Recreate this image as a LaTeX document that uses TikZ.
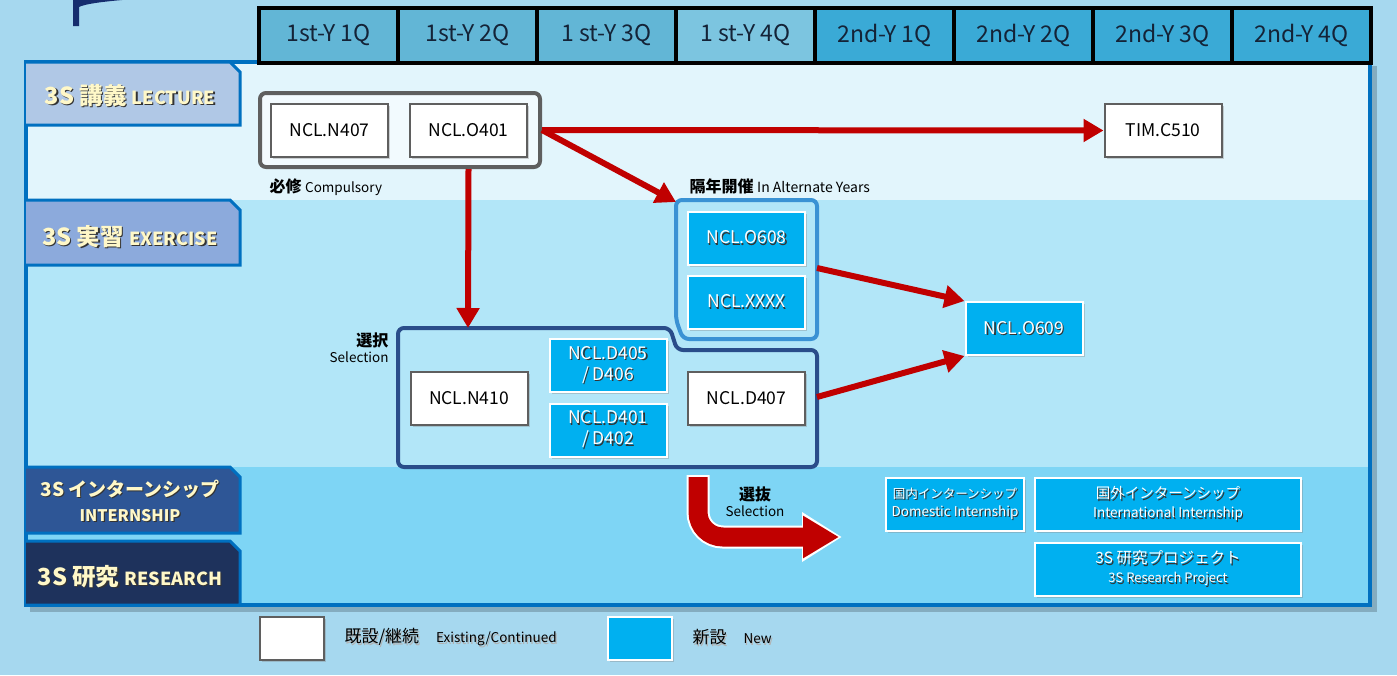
\documentclass[tikz,border=0pt]{standalone}
\usepackage{fontspec}
\setmainfont{Noto Sans CJK JP}
\usepackage{tikz}
\usetikzlibrary{arrows.meta,shadows,positioning}

\definecolor{hgblau}{RGB}{166,216,239}
\definecolor{lecbg}{RGB}{226,245,252}
\definecolor{exbg}{RGB}{178,230,248}
\definecolor{intbg}{RGB}{126,213,245}
\definecolor{rahmen}{RGB}{0,112,192}
\definecolor{neucyan}{RGB}{0,176,240}
\definecolor{pfeilrot}{RGB}{192,0,0}
\definecolor{boxgrau}{RGB}{95,95,95}
\definecolor{kopfa}{RGB}{98,182,214}
\definecolor{kopfc}{RGB}{124,197,224}
\definecolor{kopfb}{RGB}{58,170,214}
\definecolor{tablec}{RGB}{176,200,230}
\definecolor{tabex}{RGB}{140,170,220}
\definecolor{tabint}{RGB}{46,86,150}
\definecolor{tabres}{RGB}{30,50,92}
\definecolor{creme}{RGB}{255,248,200}
\definecolor{altrand}{RGB}{58,146,212}
\definecolor{selrand}{RGB}{42,77,138}
\definecolor{dunkelblau}{RGB}{22,45,110}

% Schatten fuer Text
\newcommand{\schatten}[2][black!80]{\leavevmode\rlap{\kern1.2pt\raisebox{-1.2pt}{\textcolor{#1}{#2}}}#2}

\tikzset{
    alt/.style={draw=boxgrau, line width=2pt, fill=white, minimum width=117pt, minimum height=53pt, inner sep=0pt,
        font=\fontsize{17.5}{21}\selectfont, drop shadow={opacity=0.35, shadow xshift=2pt, shadow yshift=-2pt}},
    neu/.style={draw=white, line width=2pt, fill=neucyan, text=white, minimum width=117pt, minimum height=53pt, inner sep=0pt,
        align=center, font=\fontsize{17.5}{21}\selectfont, drop shadow={opacity=0.35, shadow xshift=2pt, shadow yshift=-2pt}},
    kopf/.style={draw=black, line width=4pt, minimum width=139pt, minimum height=55pt, inner sep=0pt,
        text={rgb,255:red,20;green,35;blue,55}, font=\fontsize{23}{25}\selectfont},
    reiter/.style={draw=rahmen, line width=3pt},
    reitertxt/.style={text=creme, align=center, font=\bfseries\fontsize{23.5}{27}\selectfont},
    pfeil/.style={draw=pfeilrot, line width=6pt, -{Triangle[length=20pt,width=22pt]}},
    notiz/.style={text=black, font=\bfseries\fontsize{16}{19}\selectfont},
    legtxt/.style={text=black, font=\fontsize{17}{20}\selectfont}
}

\begin{document}
\begin{tikzpicture}[x=1pt,y=-1pt]
        \useasboundingbox (0,0) rectangle (1397,675);
        % Hintergrund
        \fill[hgblau] (0,0) rectangle (1397,675);
        \fill[dunkelblau] (73,0) -- (122,0) .. controls (100,2) and (85,4) .. (79,7) -- (79,26) -- (73,26) -- cycle;
        \fill[black, opacity=0.2] (30,66) rectangle (1377,612);
        \fill[lecbg] (26,62) rectangle (1370,200);
        \fill[exbg] (26,200) rectangle (1370,467);
        \fill[intbg] (26,467) rectangle (1370,605);
        \draw[rahmen, line width=4pt] (259,62) -- (26,62) -- (26,605) -- (1370,605) -- (1370,62);

        % Kopfzeile
        \foreach \txt/\fb [count=\i] in {1st-Y 1Q/kopfa,1st-Y 2Q/kopfa,1 st-Y 3Q/kopfa,1 st-Y 4Q/kopfc,
            2nd-Y 1Q/kopfb,2nd-Y 2Q/kopfb,2nd-Y 3Q/kopfb,2nd-Y 4Q/kopfb}
            \node[kopf, fill=\fb] (q\i) at ({259+139*(\i-0.5)},35) {\txt};

        % Reiter links
        \draw[reiter, fill=tablec] (26,62) -- (230,62) -- (240,72) -- (240,125) -- (26,125);
        \draw[reiter, fill=tabex] (26,200) -- (230,200) -- (240,210) -- (240,265) -- (26,265);
        \draw[reiter, fill=tabint] (26,467) -- (230,467) -- (240,477) -- (240,533) -- (26,533);
        \draw[reiter, fill=tabres] (26,541) -- (230,541) -- (240,551) -- (240,605) -- (26,605);
        \node[reitertxt] (rlec) at (130,96) {\schatten{3S 講義 {\fontsize{18}{20}\selectfont LECTURE}}};
        \node[reitertxt] (rex) at (130,237) {\schatten{3S 実習 {\fontsize{18}{20}\selectfont EXERCISE}}};
        \node[reitertxt] (rint) at (130,501) {{\fontsize{19}{22}\selectfont\schatten{3S インターンシップ}}\\[-2pt]{\fontsize{16}{20}\selectfont\schatten{INTERNSHIP}}};
        \node[reitertxt] (rres) at (130,577) {\schatten{3S 研究 {\fontsize{18}{20}\selectfont RESEARCH}}};

        % Gruppen
        \node[draw=boxgrau, line width=4pt, rounded corners=6pt, fill={rgb,255:red,242;green,250;blue,254},
            minimum width=280pt, minimum height=74pt] (komp) at (400,130) {};
        \draw[altrand, line width=4pt, rounded corners=6pt] (676,200) -- (817,200) -- (817,339) -- (683,339) -- (676,320) -- cycle;
        \draw[selrand, line width=4pt, rounded corners=6pt] (398,328) -- (670,328) -- (677,350) -- (817,350) -- (817,467) -- (398,467) -- cycle;
        \coordinate (altnw) at (676,202);
        \coordinate (alte) at (817,268);
        \coordinate (seltop) at (468,328);
        \coordinate (sele) at (817,397);

        % Kurse
        \node[alt] (n407) at (329.5,130.5) {NCL.N407};
        \node[alt] (o401) at (468.5,130.5) {NCL.O401};
        \node[alt] (tim) at (1163,130.5) {TIM.C510};
        \node[neu] (o608) at (746.5,238) {\schatten{NCL.O608}};
        \node[neu] (xxxx) at (746.5,302) {\schatten{NCL.XXXX}};
        \node[alt] (n410) at (469,398) {NCL.N410};
        \node[neu] (d405) at (608,365.5) {\schatten{NCL.D405}\\\schatten{/ D406}};
        \node[neu] (d401) at (608,430) {\schatten{NCL.D401}\\\schatten{/ D402}};
        \node[alt] (d407) at (746.5,398) {NCL.D407};
        \node[neu] (o609) at (1024,328.5) {\schatten{NCL.O609}};
        \node[neu, minimum width=138pt, font=\fontsize{13.5}{18}\selectfont] (dom) at (955,504.5)
            {{\fontsize{12.5}{16}\selectfont\schatten{国内インターンシップ}}\\\schatten{Domestic Internship}};
        \node[neu, minimum width=266pt, font=\fontsize{13.5}{19}\selectfont] (intl) at (1168,504.5)
            {{\fontsize{14.5}{18}\selectfont\schatten{国外インターンシップ}}\\\schatten{International Internship}};
        \node[neu, minimum width=266pt, font=\fontsize{13}{19}\selectfont] (rp) at (1168,569)
            {{\fontsize{15.5}{18}\selectfont\schatten{3S 研究プロジェクト}}\\\schatten{3S Research Project}};

        % Beschriftungen
        \node[notiz, anchor=west] (hiss) at (266,187) {必修 {\mdseries\fontsize{13.5}{16}\selectfont Compulsory}};
        \node[notiz, anchor=west] (kaku) at (686,186) {隔年開催 {\mdseries\fontsize{14}{16}\selectfont In Alternate Years}};
        \node[notiz, anchor=east, align=right] (sent) at (392,348) {選択\\[-3pt]{\mdseries\fontsize{13.5}{16}\selectfont Selection}};
        \node[notiz, align=center] (senb) at (755,502) {選抜\\[-3pt]{\mdseries\fontsize{13.5}{16}\selectfont Selection}};

        % Pfeile
        \draw[pfeil] (komp.east) -- (tim.west);
        \draw[pfeil] (komp.east) -- (altnw);
        \draw[pfeil] (komp.south -| o401) -- (seltop);
        \draw[pfeil] (alte) -- (o609.north west);
        \draw[pfeil] (sele) -- (o609.south west);
        \coordinate (ausw) at (698,477);
        \coordinate (ziel) at (839,537);
        \draw[white, line width=23pt, shorten <=-2pt, shorten >=-3pt, -{Triangle[length=40pt,width=47pt]}]
            (ausw) -- (698,512) .. controls +(0,14) and +(-14,0) .. (723,537) -- (ziel);
        \draw[pfeilrot, line width=19pt, -{Triangle[length=36pt,width=40pt]}]
            (ausw) -- (698,512) .. controls +(0,14) and +(-14,0) .. (723,537) -- (ziel);

        % Legende
        \node[alt, minimum width=64pt, minimum height=43pt] (legalt) at (292,638) {};
        \node[legtxt, right=16pt of legalt] (legalttx) {\schatten[black!30]{既設/継続}\quad{\fontsize{13.5}{16}\selectfont\schatten[black!30]{Existing/Continued}}};
        \node[neu, minimum width=64pt, minimum height=43pt] (legneu) at (640,638) {};
        \node[legtxt, right=16pt of legneu] (legneutx) {\schatten[black!30]{新設}\quad{\fontsize{13.5}{16}\selectfont\schatten[black!30]{New}}};
\end{tikzpicture}
\end{document}
